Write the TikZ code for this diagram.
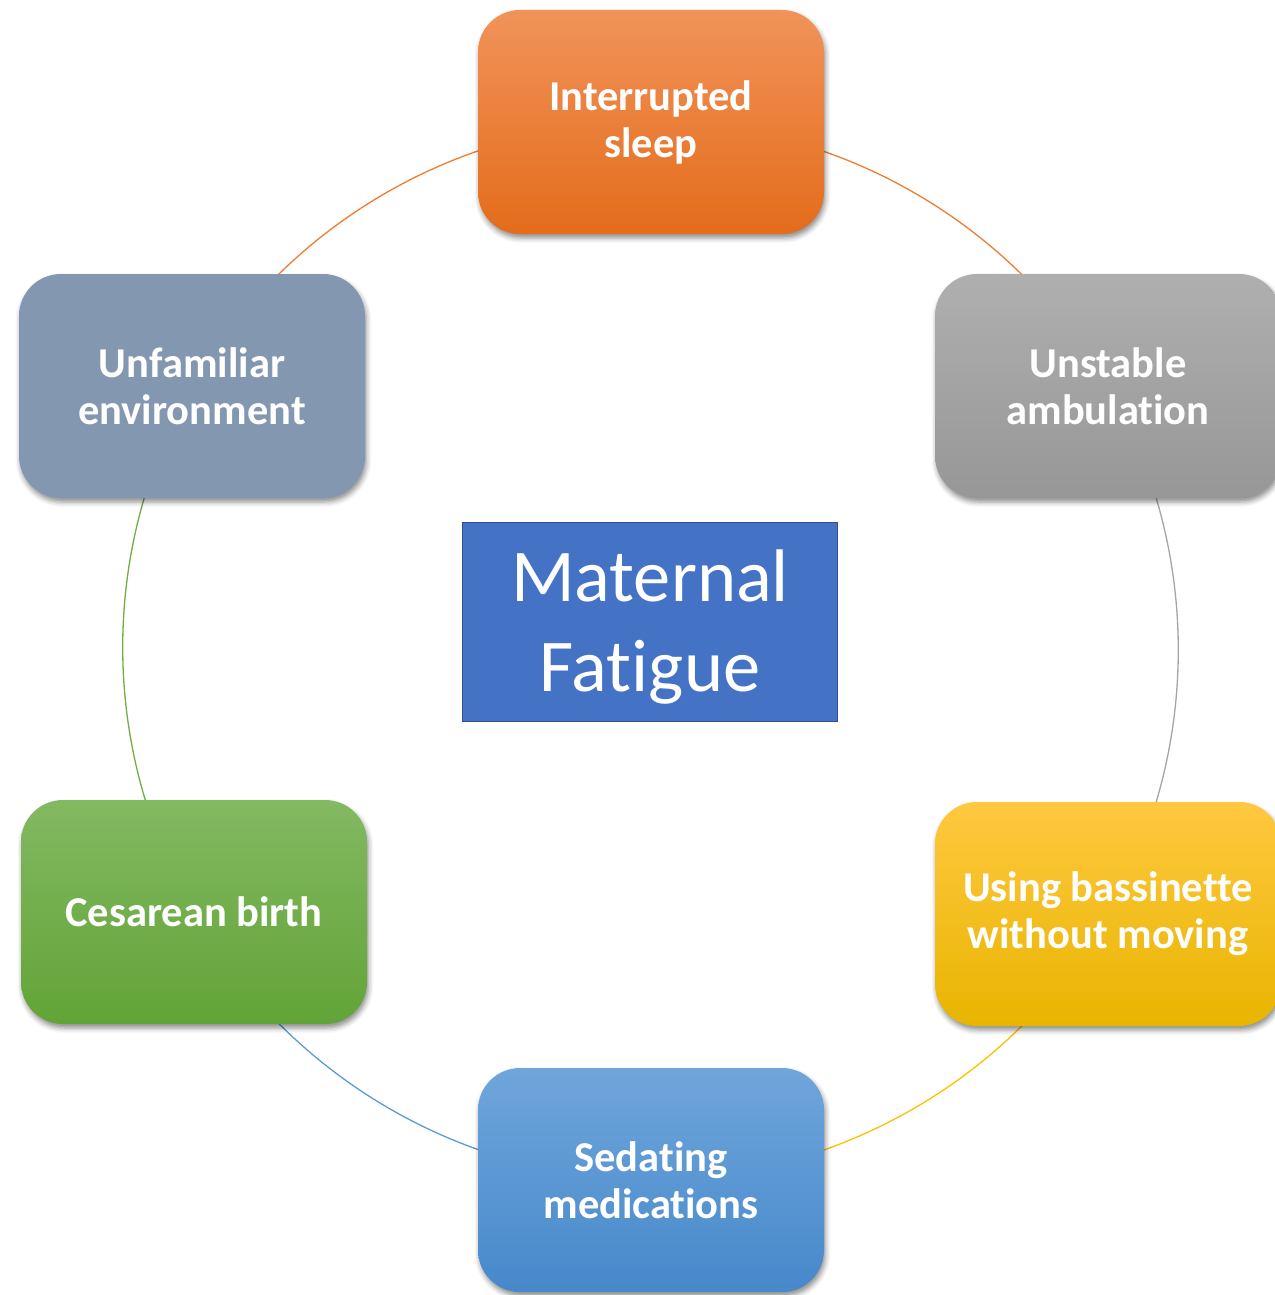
\documentclass[tikz,border=0pt]{standalone}
\usepackage{fontspec}
\setmainfont[Ligatures=NoCommon,RawFeature={-liga;-clig;-calt;-dlig}]{Carlito}
\usetikzlibrary{shadows.blur,backgrounds}

\definecolor{orgA}{HTML}{F1935A}
\definecolor{orgB}{HTML}{E46C1B}
\definecolor{gryA}{HTML}{AFAFAF}
\definecolor{gryB}{HTML}{979797}
\definecolor{gldA}{HTML}{FFC840}
\definecolor{gldB}{HTML}{E8B500}
\definecolor{bluA}{HTML}{6FA6DB}
\definecolor{bluB}{HTML}{4788CB}
\definecolor{grnA}{HTML}{83B962}
\definecolor{grnB}{HTML}{62A437}
\definecolor{slate}{HTML}{8497B0}
\definecolor{core}{HTML}{4472C4}
\definecolor{coreedge}{HTML}{2F528F}
\definecolor{lnOrange}{HTML}{ED7D31}
\definecolor{lnGray}{HTML}{A5A5A5}
\definecolor{lnGold}{HTML}{FFC000}
\definecolor{lnBlue}{HTML}{5B9BD5}
\definecolor{lnGreen}{HTML}{70AD47}

\tikzset{
  factor/.style={rounded corners=42pt, minimum width=346pt, minimum height=224pt,
    inner sep=0pt, align=center, text=white,
    font=\fontsize{42.5}{47}\selectfont\bfseries,
    blur shadow={shadow xshift=1.5pt, shadow yshift=-4pt, shadow blur radius=5pt, shadow opacity=45}},
  hubbox/.style={draw=coreedge, line width=1.6pt, fill=core, minimum width=375pt, minimum height=199pt,
    inner sep=0pt},
  hubtext/.style={inner sep=0pt, align=center, text=white, font=\fontsize{74.5}{90}\selectfont},
  ring/.style={line width=1.3pt, bend left=30, looseness=0.91},
}

\begin{document}
\begin{tikzpicture}[x=1pt,y=-1pt]
\useasboundingbox (0,0) rectangle (1274,1295);

% factor boxes placed on a circle of radius 529 around (651,650)
\node[factor, top color=orgA, bottom color=orgB] (sleep) at (651,122) {Interrupted\\sleep};
\node[factor, top color=gryA, bottom color=gryB] (ambul) at (1108,386) {Unstable\\ambulation};
\node[factor, top color=gldA, bottom color=gldB] (bassi) at (1108,914) {Using bassinette\\without moving};
\node[factor, top color=bluA, bottom color=bluB] (sedat) at (651,1180) {Sedating\\medications};
\node[factor, top color=grnA, bottom color=grnB] (cesar) at (194,912) {Cesarean birth};
\node[factor, fill=slate] (unfam) at (192,386) {Unfamiliar\\environment};

% central topic
\node[hubbox] (fatigue) at (650,622) {};
\node[hubtext] (fatiguelabel) at (650,627) {Maternal\\Fatigue};

% ring segments joining the boxes
\begin{scope}[on background layer]
  \draw[ring, lnOrange] (sleep.center) to (ambul.center);
  \draw[ring, lnGray]   (ambul.center) to (bassi.center);
  \draw[ring, lnGold]   (bassi.center) to (sedat.center);
  \draw[ring, lnBlue]   (sedat.center) to (cesar.center);
  \draw[ring, lnGreen]  (cesar.center) to (unfam.center);
  \draw[ring, lnOrange] (unfam.center) to (sleep.center);
\end{scope}
\end{tikzpicture}
\end{document}
